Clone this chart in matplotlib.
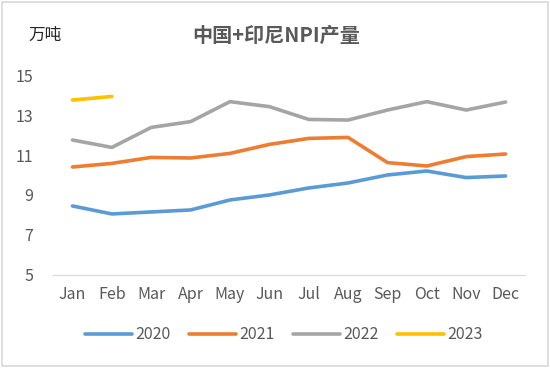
import matplotlib
matplotlib.use("Agg")
import matplotlib.pyplot as plt
from matplotlib.patches import Rectangle

plt.rcParams['font.family'] = ['Noto Sans CJK SC', 'DejaVu Sans']

months = ["Jan", "Feb", "Mar", "Apr", "May", "Jun",
          "Jul", "Aug", "Sep", "Oct", "Nov", "Dec"]
y2020 = [8.45, 8.05, 8.15, 8.25, 8.75, 9.0, 9.35, 9.6, 10.0, 10.2, 9.87, 9.95]
y2021 = [10.4, 10.58, 10.88, 10.85, 11.08, 11.53, 11.83, 11.88, 10.62, 10.45, 10.92, 11.05]
y2022 = [11.75, 11.38, 12.38, 12.67, 13.67, 13.42, 12.78, 12.75, 13.25, 13.67, 13.25, 13.65]
y2023 = [13.75, 13.93]

series = [("2020", y2020, "#5B9BD5"),
          ("2021", y2021, "#ED7D31"),
          ("2022", y2022, "#A5A5A5"),
          ("2023", y2023, "#FFC000")]

fig = plt.figure(figsize=(5.5, 3.68), dpi=100)
ax = fig.add_axes([0.096, 0.253, 0.859, 0.543])

x = list(range(len(months)))
for name, vals, col in series:
    ax.plot(x[:len(vals)], vals, color=col, lw=2.6, label=name,
            solid_capstyle="round", solid_joinstyle="round")

ax.set_xlim(-0.5, 11.5)
ax.set_ylim(5, 15)
ax.set_yticks([5, 7, 9, 11, 13, 15])
ax.set_xticks(x)
ax.set_xticklabels(months)
ax.tick_params(axis="both", length=0, labelsize=11.5, colors="#595959")
ax.tick_params(axis="x", pad=8)
ax.tick_params(axis="y", pad=14)
for s in ["top", "right", "left"]:
    ax.spines[s].set_visible(False)
ax.spines["bottom"].set_color("#D9D9D9")

fig.text(0.503, 0.905, "中国+印尼NPI产量", ha="center", va="center",
         fontsize=14.5, fontweight="bold", color="#595959")
fig.text(0.082, 0.905, "万吨", ha="center", va="center",
         fontsize=12, color="#262626")

ax.legend(loc="center", bbox_to_anchor=(0.49, -0.3), ncol=4, frameon=False,
          fontsize=11.5, handlelength=2.9, handletextpad=0.25,
          columnspacing=1.15, labelcolor="#595959")

fig.patches.append(Rectangle((0.004, 0.005), 0.992, 0.99, transform=fig.transFigure,
                             fill=False, edgecolor="#D9D9D9", lw=1.2))

fig.savefig("out.png", dpi=100, facecolor="white")
